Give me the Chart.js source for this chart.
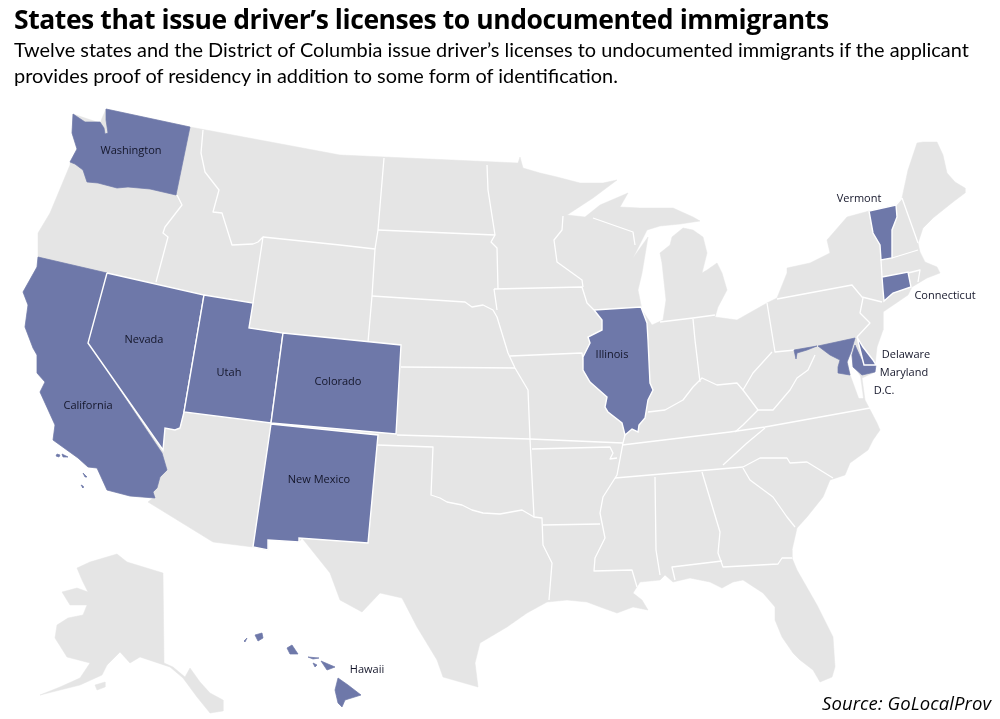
<!DOCTYPE html>
<html><head><meta charset="utf-8">
<style>
html,body{margin:0;padding:0;background:#fff;overflow:hidden}
#wrap{position:relative;width:1000px;height:719px}
canvas{position:absolute;left:0;top:0}
.t{position:absolute;white-space:nowrap;color:#000;font-family:"Open Sans",sans-serif}
#title{left:14px;top:1px;font-size:26.5px;font-weight:700;letter-spacing:-.43px;line-height:36px}
#sub{left:14px;top:36px;font-family:Lato,sans-serif;font-size:19.9px;line-height:26px}
#src{left:822px;top:690px;font-size:18.5px;font-style:italic;letter-spacing:.1px;line-height:26px}
</style></head><body>
<div id="wrap">
<canvas id="c" width="1000" height="719"></canvas>
<div class="t" id="title">States that issue driver’s licenses to undocumented immigrants</div>
<div class="t" id="sub">Twelve states and the District of Columbia issue driver’s licenses to undocumented immigrants if the applicant<br>provides proof of residency in addition to some form of identification.</div>
<div class="t" id="src">Source: GoLocalProv</div>
</div>
<script src="https://cdn.jsdelivr.net/npm/chart.js@4"></script>
<script>
// Map outlines, in map units
const usOutline=[[73,114],[100,123],[106,109],[190,127],[340,155],[518,163],[520,157],[523,168],[540,173],[557,177],[580,183],[603,183],[617,180],[593,198],[567,215],[585,217],[600,205],[628,193],[620,207],[640,208],[673,208],[693,217],[700,221],[680,224],[660,226],[647,230],[633,258],[648,237],[642,273],[638,290],[642,310],[652,325],[663,320],[666,300],[662,263],[660,253],[670,245],[672,237],[683,228],[693,230],[703,237],[707,253],[702,273],[707,270],[717,263],[722,273],[727,290],[718,307],[715,317],[737,320],[767,303],[777,298],[787,273],[787,268],[810,263],[830,253],[827,240],[847,217],[869,211],[896,205],[902,198],[908,170],[917,143],[923,142],[937,142],[943,155],[947,173],[955,182],[965,188],[965,193],[953,202],[943,210],[933,218],[923,228],[918,243],[920,252],[925,262],[937,267],[940,273],[927,278],[912,287],[908,295],[883,312],[883,330],[877,347],[875,365],[873,373],[862,378],[865,400],[877,423],[880,430],[873,440],[868,450],[850,463],[845,475],[830,480],[823,497],[807,517],[797,528],[792,550],[792,558],[797,570],[817,605],[833,637],[835,667],[832,677],[820,682],[813,670],[800,660],[793,653],[782,637],[775,620],[775,607],[763,593],[743,580],[733,582],[722,588],[710,582],[690,578],[673,582],[665,575],[660,580],[640,582],[633,593],[642,600],[648,610],[633,607],[617,613],[603,608],[587,602],[567,600],[547,602],[527,613],[507,627],[480,643],[475,663],[478,687],[443,677],[437,660],[417,627],[402,598],[380,593],[362,612],[340,600],[330,573],[302,538],[299,542],[268,540],[268,550],[253,547],[213,542],[148,502],[153,498],[130,496],[107,490],[97,468],[88,467],[78,458],[53,440],[55,425],[40,392],[45,382],[37,373],[37,355],[33,348],[25,327],[28,305],[23,292],[37,267],[38,257],[38,233],[50,213],[70,165],[70,162],[77,149],[72,133]];
const alaska=[[77,568],[90,562],[117,554],[127,562],[163,573],[164,663],[173,667],[185,677],[190,668],[200,682],[210,693],[223,700],[223,711],[210,713],[197,697],[183,678],[170,667],[140,657],[130,663],[120,652],[107,665],[102,675],[80,685],[60,690],[40,695],[60,687],[80,678],[90,663],[67,657],[55,638],[57,625],[68,618],[83,615],[87,605],[70,605],[62,592],[77,588],[88,592],[82,580]];
const kodiak=[[95,685],[105,682],[105,687],[97,690]];
const chesapeake=[[853,345],[848,362],[851,376],[859,398],[863,398],[860,376],[853,366],[851,355]];

const washington=[[73,114],[85,122],[100,122],[104,128],[105,134],[108,133],[106,120],[106,109],[190,127],[176,195],[150,189],[128,187],[117,188],[98,183],[87,182],[83,170],[75,164],[70,162],[77,149],[72,133]];
const california=[[38,257],[107,273],[88,343],[162,453],[167,470],[160,477],[157,488],[153,492],[155,498],[130,496],[107,490],[97,468],[88,467],[78,458],[53,440],[55,425],[40,392],[45,382],[37,373],[37,355],[33,348],[25,327],[28,305],[23,292],[37,267]];
const channelA=[[57,454],[60,455],[59,457],[56,456]];
const channelB=[[62,454],[68,457],[63,457]];
const channelC=[[83,473],[87,477],[85,477]];
const channelD=[[81,485],[83,486],[83,488]];
const nevada=[[107,273],[204,295],[184,412],[180,428],[175,430],[165,428],[163,450],[88,343]];
const utah=[[204,295],[253,303],[249,328],[283,333],[271,423],[184,412]];
const colorado=[[283,333],[401,345],[396,434],[271,423]];
const newMexico=[[271,424],[378,435],[368,543],[299,538],[299,542],[268,540],[268,550],[253,547]];
const illinois=[[594,310],[641,307],[647,323],[648,340],[650,383],[653,390],[648,400],[645,418],[639,425],[638,432],[632,429],[625,435],[622,423],[608,412],[605,407],[607,397],[590,382],[583,370],[583,357],[590,343],[588,337],[602,330],[602,320]];
const vermont=[[869,211],[896,205],[897,217],[892,230],[892,258],[881,260],[880,245],[873,233]];
const connecticut=[[882,277],[908,272],[911,287],[893,293],[884,301],[883,290]];
const marylandWest=[[794,350],[817,346],[807,350],[797,353],[796,359]];
const marylandMain=[[818,346],[855,338],[851,352],[847,362],[850,375],[838,373],[838,367],[840,360],[830,355]];
const marylandShore=[[855,345],[852,355],[853,367],[862,375],[875,372],[876,365],[864,365]];
const delaware=[[857,337],[863,347],[873,360],[876,365],[864,365]];
const hawaiiBig=[[338,678],[348,685],[361,695],[345,700],[342,707],[338,703],[335,690]];
const maui=[[321,661],[335,667],[327,670]];
const oahu=[[287,648],[292,645],[298,654],[290,654]];
const kauai=[[255,635],[262,633],[263,638],[258,641]];
const niihau=[[244,641],[247,638],[245,642]];
const molokai=[[308,657],[319,658],[313,659]];
const lanai=[[313,663],[317,665],[315,667]];

// Internal state borders
const borders=[
[[177,195],[182,205],[165,227],[163,233],[168,237],[156,282]],
[[203,130],[201,153],[205,172],[219,190],[213,212],[222,213],[232,245],[253,244],[258,242],[263,237],[253,303]],
[[263,237],[340,245],[375,249],[372,296],[368,342]],
[[384,158],[378,230],[375,249]],
[[378,230],[495,235]],
[[372,296],[465,302],[472,307],[483,305],[493,310],[497,317],[508,353],[515,368],[528,390],[530,439],[534,517],[542,518],[543,545],[552,563],[549,600]],
[[401,367],[515,368]],
[[397,435],[530,439],[623,443]],
[[377,445],[433,447],[431,495],[440,498],[447,502],[462,505],[472,510],[483,513],[500,514],[522,510],[534,517]],
[[543,525],[600,524]],
[[532,449],[610,447],[613,453],[610,459],[617,458]],
[[625,435],[623,443],[617,475],[603,497],[600,513],[605,538],[595,558],[594,571],[632,570],[637,587]],
[[615,478],[743,467]],
[[655,477],[656,550],[660,575]],
[[622,445],[647,442],[730,432],[765,427],[870,408]],
[[765,428],[747,443],[723,465]],
[[494,289],[582,287],[587,303],[594,310]],
[[497,310],[494,289]],
[[510,356],[582,353],[583,360]],
[[487,165],[488,190],[495,235],[491,242],[497,248],[498,289]],
[[563,216],[562,230],[554,240],[557,262],[582,280],[583,287]],
[[593,218],[633,232],[635,245]],
[[695,340],[700,382]],
[[648,412],[665,410],[683,400],[693,387],[702,378],[717,385],[737,383],[743,390],[753,373],[772,352]],
[[660,322],[693,318],[715,315]],
[[693,319],[695,340]],
[[767,303],[775,352],[795,350]],
[[777,299],[852,285],[862,297],[882,302]],
[[863,298],[860,313],[870,323],[857,337]],
[[881,260],[882,277]],
[[892,258],[918,250]],
[[908,273],[920,270],[918,282]],
[[902,198],[918,243]],
[[896,205],[902,198]],
[[815,355],[808,370],[797,378],[790,390],[773,410],[758,410],[743,390]],
[[758,410],[743,425],[735,432]],
[[743,467],[760,458],[787,458],[790,463],[807,462],[833,478]],
[[743,468],[750,480],[773,497],[787,517],[795,527]],
[[702,472],[720,532],[718,553],[723,567],[778,564],[782,558],[792,558]],
[[722,561],[672,567],[675,580]]
];

const landShapes=[usOutline,alaska,kodiak];
const waterShapes=[chesapeake];
const blueEdged=[california,channelA,channelB,channelC,channelD,marylandWest,marylandMain,marylandShore,hawaiiBig,maui,oahu,kauai,niihau,molokai,lanai,washington];
const whiteEdged=[nevada,utah,colorado,newMexico,illinois,vermont,connecticut,delaware];

const stateLabels=["Washington","Nevada","Utah","Colorado","California","New Mexico","Illinois","Vermont","Connecticut","Delaware","Maryland","D.C.","Hawaii"];
const labelX=[131,144,229,338,88,319,612,859,945,906,904,884,367];
const labelY=[151,340,373,382,406,480,355,199,296,355,373,391,670];

const LAND="#e5e5e5",BLUE="#6e78a9",WHITE="#ffffff";
const pts=a=>{const p=a.map(q=>({x:q[0],y:q[1]}));p.push(p[0]);return p;};
const shape=(a,fillC,lineC,w)=>({data:pts(a),showLine:true,fill:'shape',backgroundColor:fillC,borderColor:lineC,borderWidth:w,pointRadius:0,tension:0});
const line=a=>({data:a.map(q=>({x:q[0],y:q[1]})),showLine:true,fill:false,borderColor:WHITE,borderWidth:1.3,pointRadius:0,tension:0,borderJoinStyle:'round'});

const layers=[
 ...landShapes.map(a=>shape(a,LAND,LAND,0.5)),
 ...waterShapes.map(a=>shape(a,WHITE,WHITE,0.5)),
 ...borders.map(line),
 ...blueEdged.map(a=>shape(a,BLUE,BLUE,0.7)),
 ...whiteEdged.map(a=>shape(a,BLUE,WHITE,1.4))
];

const labelPlugin={id:'labels',afterDraw(ch){
 const {ctx,scales:{x,y}}=ch;
 ctx.save();ctx.font='11px "Open Sans",sans-serif';ctx.fillStyle='#14162a';ctx.textAlign='center';ctx.textBaseline='middle';
 stateLabels.forEach((s,i)=>ctx.fillText(s,x.getPixelForValue(labelX[i]),y.getPixelForValue(labelY[i])));
 ctx.restore();
}};

new Chart(document.getElementById('c'),{
 type:'scatter',
 data:{datasets:layers.slice().reverse()},
 options:{responsive:false,animation:false,devicePixelRatio:1,
  layout:{padding:0},
  plugins:{legend:{display:false},tooltip:{enabled:false},title:{display:false}},
  scales:{x:{type:'linear',min:0,max:1000,display:false},y:{type:'linear',min:0,max:719,reverse:true,display:false}}
 },
 plugins:[labelPlugin]
});
</script>
</body></html>
